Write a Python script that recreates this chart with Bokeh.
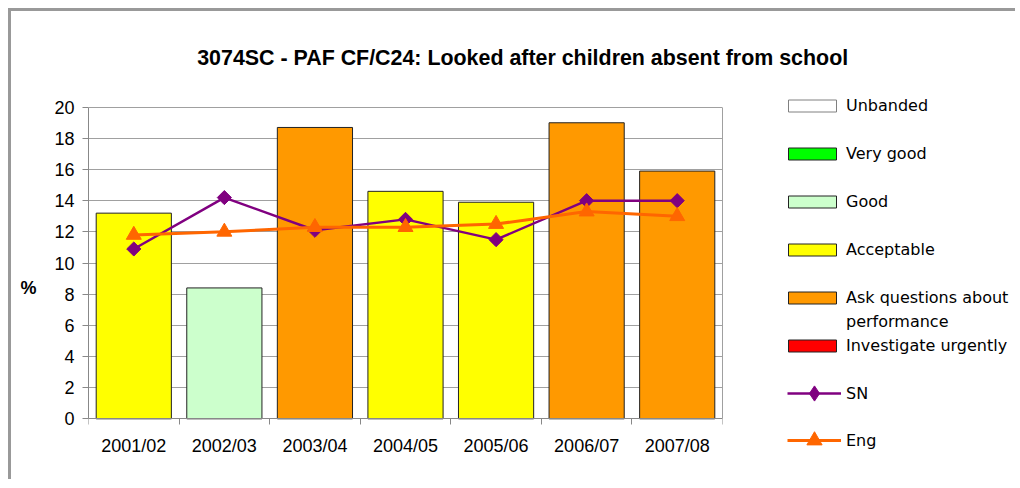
import math
from bokeh.plotting import figure
from bokeh.layouts import column, row
from bokeh.models import (ColumnDataSource, Range1d, FixedTicker, Legend, LegendItem, Label,
                          LinearAxis)
from bokeh.embed import file_html
from bokeh.resources import INLINE

# ---------------- data ----------------
years = ["2001/02", "2002/03", "2003/04", "2004/05", "2005/06", "2006/07", "2007/08"]
pct = [13.2, 8.4, 18.7, 14.6, 13.9, 19.0, 15.9]
bands = ["Acceptable", "Good", "Ask questions about performance", "Acceptable",
         "Acceptable", "Ask questions about performance", "Ask questions about performance"]
sn = [10.9, 14.2, 12.1, 12.8, 11.5, 14.0, 14.0]
eng = [11.8, 12.0, 12.3, 12.3, 12.5, 13.3, 13.0]
band_names = ["Unbanded", "Very good", "Good", "Acceptable",
              "Ask questions about performance", "Investigate urgently"]
band_colors = ["#FFFFFF", "#00FF00", "#CCFFCC", "#FFFF00", "#FF9900", "#FF0000"]
band_edges = ["#808080", "#222222", "#222222", "#222222", "#222222", "#222222"]
y_ticks = [0, 2, 4, 6, 8, 10, 12, 14, 16, 18, 20]
title_text = "3074SC - PAF CF/C24: Looked after children absent from school"

FONT = "Liberation Sans"
LFONT = "DejaVu Sans"
NAN = float("nan")

SN_LINE = dict(line_color="#800080", line_width=2.5)
SN_MARK = dict(fill_color="#800080", line_color="#800080")
ENG_LINE = dict(line_color="#FF6600", line_width=3)
ENG_MARK = dict(marker="triangle", fill_color="#FF6600", line_color="#FF6600")

xs = [i + 0.5 for i in range(len(years))]

# layout geometry (pixels)
H = 384            # height of chart row
PX_TOP = 11.7      # frame top -> value 20
PX_BOT = 60.7      # value 0 -> frame bottom
unit = (H - PX_TOP - PX_BOT) / (y_ticks[-1] - y_ticks[0])


def blank_fig(w, h):
    f = figure(width=w, height=h, x_range=Range1d(0, 1), y_range=Range1d(0, 1),
               output_backend="svg", toolbar_location=None,
               x_axis_location=None, y_axis_location=None, min_border=0)
    f.outline_line_color = None
    f.grid.visible = False
    f.background_fill_color = "white"
    f.border_fill_color = "white"
    return f

# ---------------- title ----------------
tf = blank_fig(1004, 84)
tf.add_layout(Label(x=185.7, y=37.7, x_units="screen", y_units="screen",
                    text=title_text, text_font=FONT, text_font_style="bold",
                    text_font_size="21.4px", text_color="black",
                    text_align="left", text_baseline="alphabetic"))

# ---------------- main chart ----------------
p = figure(width=740, height=H,
           x_range=Range1d(0, len(years)),
           y_range=Range1d(y_ticks[0] - PX_BOT / unit, y_ticks[-1] + PX_TOP / unit),
           output_backend="svg", toolbar_location=None,
           min_border_left=77, min_border_right=29,
           min_border_top=0, min_border_bottom=0)
p.background_fill_color = "white"
p.border_fill_color = "white"
p.outline_line_color = None

for name, col, edge in zip(band_names, band_colors, band_edges):
    idx = [i for i, b in enumerate(bands) if b == name]
    if not idx:
        continue
    src = ColumnDataSource(dict(x=[xs[i] for i in idx], top=[pct[i] for i in idx]))
    p.vbar(x="x", top="top", bottom=0, width=0.83, source=src,
           fill_color=col, line_color=edge, line_width=1)

p.line(xs, sn, **SN_LINE)
p.scatter(xs, sn, marker="square", angle=math.pi / 4, size=10, **SN_MARK)
p.line(xs, eng, **ENG_LINE)
p.scatter(xs, eng, size=15, **ENG_MARK)

p.xaxis.fixed_location = 0
p.xaxis.bounds = (0, len(years))
p.xaxis.ticker = FixedTicker(ticks=xs, minor_ticks=list(range(len(years) + 1)))
p.xaxis.major_label_overrides = {x: y for x, y in zip(xs, years)}
p.xaxis.major_tick_line_color = None
p.xaxis.major_tick_out = 0
p.xaxis.major_tick_in = 0
p.xaxis.minor_tick_out = 6
p.xaxis.minor_tick_in = 0
p.xaxis.minor_tick_line_color = "#888888"
p.xaxis.axis_line_color = "#888888"
p.xaxis.major_label_standoff = 11
p.xaxis.major_label_text_font = FONT
p.xaxis.major_label_text_font_size = "18px"
p.xaxis.major_label_text_color = "black"

p.yaxis.bounds = (y_ticks[0], y_ticks[-1])
p.yaxis.ticker = FixedTicker(ticks=y_ticks)
p.yaxis.minor_tick_line_color = None
p.yaxis.major_tick_out = 6
p.yaxis.major_tick_in = 0
p.yaxis.major_tick_line_color = "#888888"
p.yaxis.axis_line_color = "#888888"
p.yaxis.major_label_standoff = 8
p.yaxis.major_label_text_font = FONT
p.yaxis.major_label_text_font_size = "18px"
p.yaxis.major_label_text_color = "black"
p.yaxis.axis_label = "%"
p.yaxis.axis_label_orientation = "horizontal"
p.yaxis.axis_label_text_font = FONT
p.yaxis.axis_label_text_font_style = "bold"
p.yaxis.axis_label_text_font_size = "18px"
p.yaxis.axis_label_text_color = "black"
p.yaxis.axis_label_standoff = 15

# right edge of the plot area
rax = LinearAxis(bounds=(y_ticks[0], y_ticks[-1]), ticker=FixedTicker(ticks=[]),
                 major_tick_line_color=None, minor_tick_line_color=None,
                 major_label_text_font_size="0px", axis_line_color="#A0A0A0")
p.add_layout(rax, "right")

p.xgrid.grid_line_color = None
p.ygrid.ticker = FixedTicker(ticks=y_ticks)
p.ygrid.grid_line_color = "#A0A0A0"

# ---------------- legend panel ----------------
lf = blank_fig(264, H)


def wrap(s, n=20):
    words, lines, cur = s.split(), [], ""
    for w in words:
        if cur and len(cur) + 1 + len(w) > n:
            lines.append(cur)
            cur = w
        else:
            cur = (cur + " " + w).strip()
    lines.append(cur)
    return lines

spacer = lf.scatter(x=[NAN], y=[NAN], size=0, fill_alpha=0, line_alpha=0)
band_items = []
for k, (name, col, edge) in enumerate(zip(band_names, band_colors, band_edges)):
    r = lf.vbar(x=[NAN], top=[NAN], width=1, fill_color=col, line_color=edge, line_width=1)
    lines = wrap(name)
    band_items.append(LegendItem(label=lines[0], renderers=[r]))
    for ln in lines[1:]:
        band_items.append(LegendItem(label=ln, renderers=[spacer]))
    if len(lines) == 1 and k < len(band_names) - 1:
        band_items.append(LegendItem(label=" ", renderers=[spacer]))

common = dict(orientation="vertical", border_line_color=None, background_fill_alpha=0,
              padding=0, margin=0, label_text_font=LFONT, label_text_font_size="16px",
              label_text_color="black")

n_items = len(band_items)
leg_h = n_items * 20 + (n_items - 1) * 4
lf.add_layout(Legend(items=band_items, location=(31, H - leg_h), spacing=4,
                     label_height=20, glyph_height=15, glyph_width=60,
                     label_standoff=4, **common))

sn_l = lf.line(x=[NAN], y=[NAN], **SN_LINE)
sn_m = lf.scatter(x=[NAN], y=[NAN], marker="diamond", **SN_MARK)
lf.add_layout(Legend(items=[LegendItem(label="SN", renderers=[sn_l, sn_m])],
                     location=(36, 67), spacing=0, label_height=20,
                     glyph_height=38, glyph_width=54, label_standoff=5, **common))

eng_l = lf.line(x=[NAN], y=[NAN], **ENG_LINE)
eng_m = lf.scatter(x=[NAN], y=[NAN], **ENG_MARK)
lf.add_layout(Legend(items=[LegendItem(label="Eng", renderers=[eng_l, eng_m])],
                     location=(36, 20), spacing=0, label_height=20,
                     glyph_height=38, glyph_width=54, label_standoff=5, **common))

layout = column(tf, row(p, lf))
layout.styles = {"margin-left": "8px", "margin-top": "8px",
                 "border-left": "3px solid #999999", "border-top": "3px solid #999999"}

open("out.html", "w").write(file_html(layout, INLINE))
